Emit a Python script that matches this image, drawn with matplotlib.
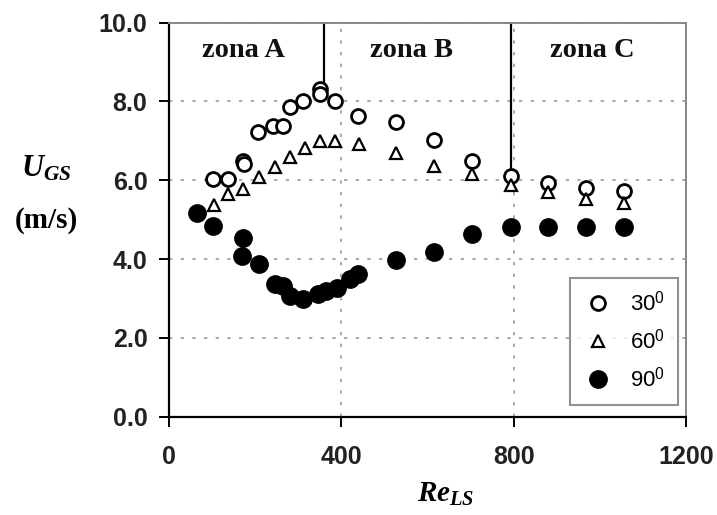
import matplotlib
matplotlib.use("Agg")
import matplotlib.pyplot as plt

plt.rcParams["mathtext.fontset"] = "custom"
plt.rcParams["mathtext.it"] = "Liberation Serif:italic:bold"
plt.rcParams["mathtext.bf"] = "Liberation Serif:bold"
plt.rcParams["mathtext.rm"] = "Liberation Sans"

# Superficial gas velocity at transition vs. liquid Reynolds number, by inclination
re_30 = [101, 138, 172, 175, 206, 241, 264, 280, 312, 350, 350, 385, 439, 527, 614, 703, 793, 880, 969, 1057]
ugs_30 = [6.03, 6.03, 6.49, 6.42, 7.21, 7.38, 7.38, 7.85, 8.00, 8.31, 8.19, 8.00, 7.64, 7.47, 7.02, 6.49, 6.11, 5.92, 5.80, 5.73]

re_60 = [105, 138, 172, 208, 245, 280, 315, 350, 385, 441, 527, 614, 703, 793, 880, 969, 1057]
ugs_60 = [5.37, 5.65, 5.77, 6.07, 6.34, 6.58, 6.82, 7.00, 7.00, 6.92, 6.68, 6.37, 6.15, 5.88, 5.69, 5.52, 5.43]

re_90 = [66, 101, 172, 169, 208, 245, 264, 280, 312, 346, 365, 389, 420, 439, 527, 614, 703, 793, 880, 969, 1057]
ugs_90 = [5.18, 4.84, 4.54, 4.08, 3.87, 3.36, 3.32, 3.05, 2.98, 3.10, 3.19, 3.27, 3.49, 3.61, 3.97, 4.19, 4.63, 4.82, 4.82, 4.82, 4.82]

series_labels = ["30$^0$", "60$^0$", "90$^0$"]

zone_names = ["zona A", "zona B", "zona C"]
zone_label_x = [174, 564, 982]
zone_bounds_x = [359, 795]
zone_bounds_bottom = [8.36, 6.3]

x_ticks = [0, 400, 800, 1200]
y_ticks = [0, 2, 4, 6, 8, 10]

fig = plt.figure(figsize=(7.17, 5.15), dpi=100)
ax = fig.add_axes([0.2357, 0.1909, 0.721, 0.7654])

ax.plot(re_30, ugs_30, linestyle="none", marker="o", markersize=10,
        markerfacecolor="white", markeredgecolor="black", markeredgewidth=2.0,
        label=series_labels[0], zorder=3)
ax.plot(re_60, ugs_60, linestyle="none", marker="^", markersize=9,
        markerfacecolor="white", markeredgecolor="black", markeredgewidth=1.6,
        label=series_labels[1], zorder=3)
ax.plot(re_90, ugs_90, linestyle="none", marker="o", markersize=12.5,
        markerfacecolor="black", markeredgecolor="black",
        label=series_labels[2], zorder=3)

# Zone boundaries
for xb, yb in zip(zone_bounds_x, zone_bounds_bottom):
    ax.plot([xb, xb], [yb, 10], color="black", linewidth=1.6, zorder=2)
for name, xl in zip(zone_names, zone_label_x):
    ax.text(xl, 9.28, name, ha="center", va="center", fontsize=20.5,
            fontweight="bold", family="Liberation Serif", color="#111111")

ax.set_xlim(0, 1200)
ax.set_ylim(0, 10)
ax.set_xticks(x_ticks)
ax.set_yticks(y_ticks)
ax.set_xticklabels([str(v) for v in x_ticks])
ax.set_yticklabels([f"{v:.1f}" for v in y_ticks])
for lab in ax.get_xticklabels() + ax.get_yticklabels():
    lab.set_fontweight("bold")
    lab.set_fontsize(18)
    lab.set_family("Liberation Sans")
    lab.set_color("#222222")
ax.tick_params(direction="out", length=7.5, width=1.4)
ax.tick_params(axis="x", pad=13)
ax.tick_params(axis="y", pad=8)

ax.grid(True, linestyle=(0, (2, 5)), color="#999999", linewidth=1.2)
ax.set_axisbelow(True)

ax.spines["left"].set_linewidth(1.6)
ax.spines["bottom"].set_linewidth(1.6)
ax.spines["top"].set_color("#888888")
ax.spines["right"].set_color("#888888")
ax.spines["top"].set_linewidth(1.4)
ax.spines["right"].set_linewidth(1.4)

fig.text(0.622, 1 - 494 / 515, "$\\mathit{Re}_{\\mathit{LS}}$", fontsize=21,
         ha="center", va="center")
fig.text(0.064, 1 - 168 / 515, "$\\mathit{U}_{\\mathit{GS}}$", fontsize=22,
         ha="center", va="center")
fig.text(0.065, 1 - 220 / 515, "(m/s)", fontsize=21, fontweight="bold",
         ha="center", va="center", family="Liberation Serif")

leg = ax.legend(loc="lower right", bbox_to_anchor=(0.985, 0.03), frameon=True,
                fancybox=False, edgecolor="#777777", fontsize=16,
                handletextpad=0.8, borderpad=0.6, labelspacing=0.6,
                handlelength=1.3, borderaxespad=0)
leg.get_frame().set_linewidth(1.5)
for t in leg.get_texts():
    t.set_family("Liberation Sans")

fig.savefig("out.png", dpi=100)
